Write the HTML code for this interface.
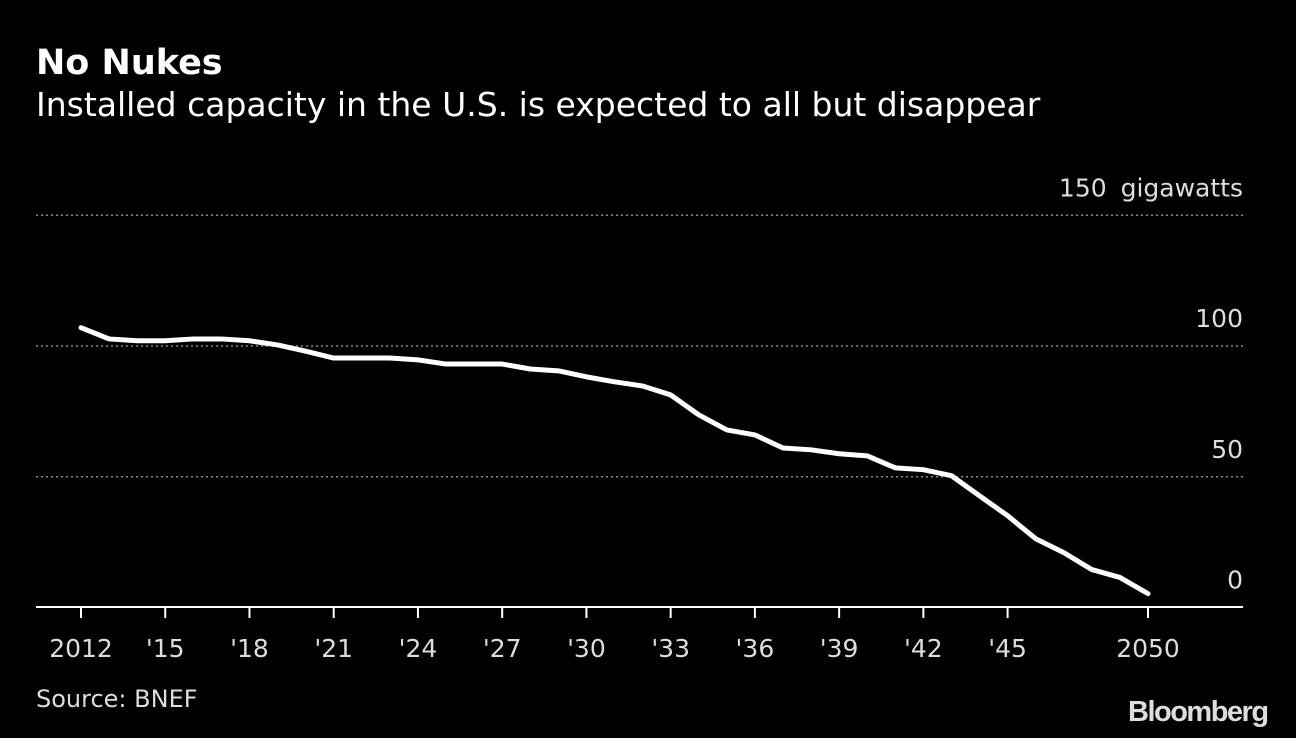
<!DOCTYPE html>
<html><head><meta charset="utf-8"><style>
html,body{margin:0;padding:0;background:#000;}
body{width:1296px;height:738px;overflow:hidden;font-family:"DejaVu Sans",sans-serif;color:#fff;position:relative}
.t{position:absolute;white-space:nowrap}
</style></head><body>
<div class="t" style="left:36px;top:43px;font-size:35px;font-weight:bold">No Nukes</div>
<div class="t" style="left:36px;top:85px;font-size:33px">Installed capacity in the U.S. is expected to all but disappear</div>
<svg id="chart" width="1296" height="738" style="position:absolute;left:0;top:0" xmlns="http://www.w3.org/2000/svg"></svg>
<div class="t" style="left:36px;top:685px;font-size:24px;color:#ddd">Source: BNEF</div>
<div class="t" style="left:1128px;top:696px;font-size:29px;font-weight:bold;letter-spacing:-1.5px;color:#ddd;font-family:'Liberation Sans',sans-serif">Bloomberg</div>
<script>
const years=[2012,2013,2014,2015,2016,2017,2018,2019,2020,2021,2022,2023,2024,2025,2026,2027,2028,2029,2030,2031,2032,2033,2034,2035,2036,2037,2038,2039,2040,2041,2042,2043,2044,2045,2046,2047,2048,2049,2050];
const values=[107,102.7,102,102,102.7,102.7,102,100.4,98,95.4,95.4,95.4,94.7,93.1,93.1,93.1,91.2,90.5,88.2,86.3,84.7,81.3,73.7,67.9,66,61,60.3,58.8,58,53.4,52.7,50.4,42.7,35.1,26.3,21,14.5,11.5,5.3];
const yTicks=[0,50,100,150];
const yTickLabels=["0","50","100","150 gigawatts"];
const xTicks=[2012,2015,2018,2021,2024,2027,2030,2033,2036,2039,2042,2045,2050];
const xTickLabels=["2012","'15","'18","'21","'24","'27","'30","'33","'36","'39","'42","'45","2050"];
const NS="http://www.w3.org/2000/svg";
const svg=document.getElementById('chart');
const x=v=>81+(v-2012)*(1148-81)/38;
const y=v=>607.5-v*(607.5-346)/100;
function mk(t,a){const e=document.createElementNS(NS,t);for(const k in a)e.setAttribute(k,a[k]);svg.appendChild(e);return e;}
yTicks.forEach((v,i)=>{
  if(v>0){const g=mk('line',{x1:36,x2:1243,y1:y(v),y2:y(v),stroke:'#888','stroke-width':1.5,'stroke-dasharray':'2,3'});
  
  }
  const t=mk('text',{x:1243,y:y(v)-19,'text-anchor':'end','font-size':25,fill:'#ddd','font-family':'DejaVu Sans, sans-serif','word-spacing':6});
  t.textContent=yTickLabels[i];
  
  
});
const ax=mk('line',{x1:36,x2:1243,y1:607,y2:607,stroke:'#fff','stroke-width':2});


xTicks.forEach((v,i)=>{
  const tk=mk('line',{x1:x(v),x2:x(v),y1:607,y2:618,stroke:'#fff','stroke-width':2});
  
  
  const t=mk('text',{x:x(v),y:657,'text-anchor':'middle','font-size':25,fill:'#ddd','font-family':'DejaVu Sans, sans-serif'});
  t.textContent=xTickLabels[i];
  
  
});
const p=mk('polyline',{points:years.map((yr,i)=>x(yr)+','+y(values[i])).join(' '),fill:'none',stroke:'#fff','stroke-width':5,'stroke-linejoin':'round','stroke-linecap':'round'});


</script>
</body></html>
